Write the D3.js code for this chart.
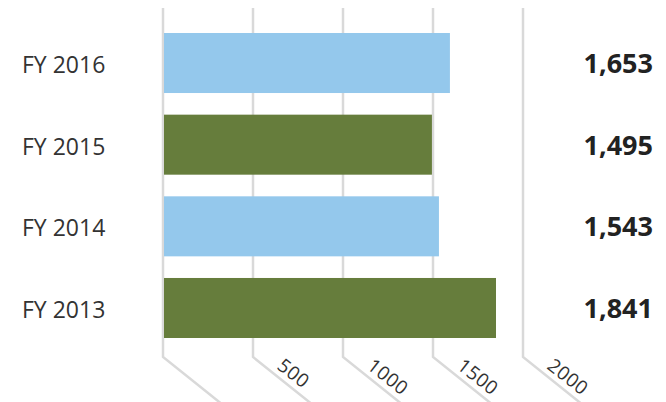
<!DOCTYPE html>
<html>
<head>
<meta charset="utf-8">
<script src="https://cdn.jsdelivr.net/npm/d3@7"></script>
<style>
  html, body { margin: 0; padding: 0; background: #fff; }
  svg text { font-family: 'Open Sans', 'Noto Sans', sans-serif; fill: #333; }
</style>
</head>
<body>
<svg id="chart" width="666" height="402"></svg>
<script>
// data (top row first)
const years = ['FY 2016', 'FY 2015', 'FY 2014', 'FY 2013'];
const barValues = [1594, 1494, 1533, 1850];
const valueLabels = ['1,653', '1,495', '1,543', '1,841'];
const barColors = ['#94c8ec', '#667d3c', '#94c8ec', '#667d3c'];
const tickValues = [0, 500, 1000, 1500, 2000];

const svg = d3.select('#chart');

const sx = d3.scaleLinear()
  .domain([0, 2000])
  .range([163, 523]);

const sy = d3.scaleBand()
  .domain(years)
  .range([33, 338])
  .paddingInner(0.265)
  .paddingOuter(0);

const gridTop = 8;
const gridBottom = 357;

// gridlines: vertical, then a slanted foot running down to the right
const grid = svg.append('g').attr('class', 'grid');
grid.selectAll('path')
  .data(tickValues)
  .enter().append('path')
  .attr('d', d => `M${sx(d)},${gridTop}V${gridBottom}l60,48`)
  .style('fill', 'none')
  .style('stroke', '#d9d9d9')
  .style('stroke-width', 2.5);

// tick labels along the slanted feet (no label at 0)
grid.selectAll('text')
  .data(tickValues.filter(d => d > 0))
  .enter().append('text')
  .attr('transform', d => `translate(${sx(d) + 23},${gridBottom + 11}) rotate(38)`)
  .style('font-size', '19px')
  .style('letter-spacing', '0.5px')
  .text(d => d);

// bars
svg.append('g')
  .selectAll('rect')
  .data(years)
  .enter().append('rect')
  .attr('x', sx(0) + 1)
  .attr('y', d => sy(d))
  .attr('width', (d, i) => sx(barValues[i]) - sx(0) - 1)
  .attr('height', sy.bandwidth())
  .style('fill', (d, i) => barColors[i]);

// category labels
svg.append('g')
  .selectAll('text')
  .data(years)
  .enter().append('text')
  .attr('x', 22)
  .attr('y', d => sy(d) + sy.bandwidth() / 2 + 10)
  .style('font-size', '23px')
  .text(d => d);

// value labels
svg.append('g')
  .selectAll('text')
  .data(years)
  .enter().append('text')
  .attr('x', 653)
  .attr('y', d => sy(d) + sy.bandwidth() / 2 + 10)
  .attr('text-anchor', 'end')
  .style('font-size', '27px')
  .style('font-weight', 'bold')
  .style('fill', '#222')
  .text((d, i) => valueLabels[i]);
</script>
</body>
</html>
